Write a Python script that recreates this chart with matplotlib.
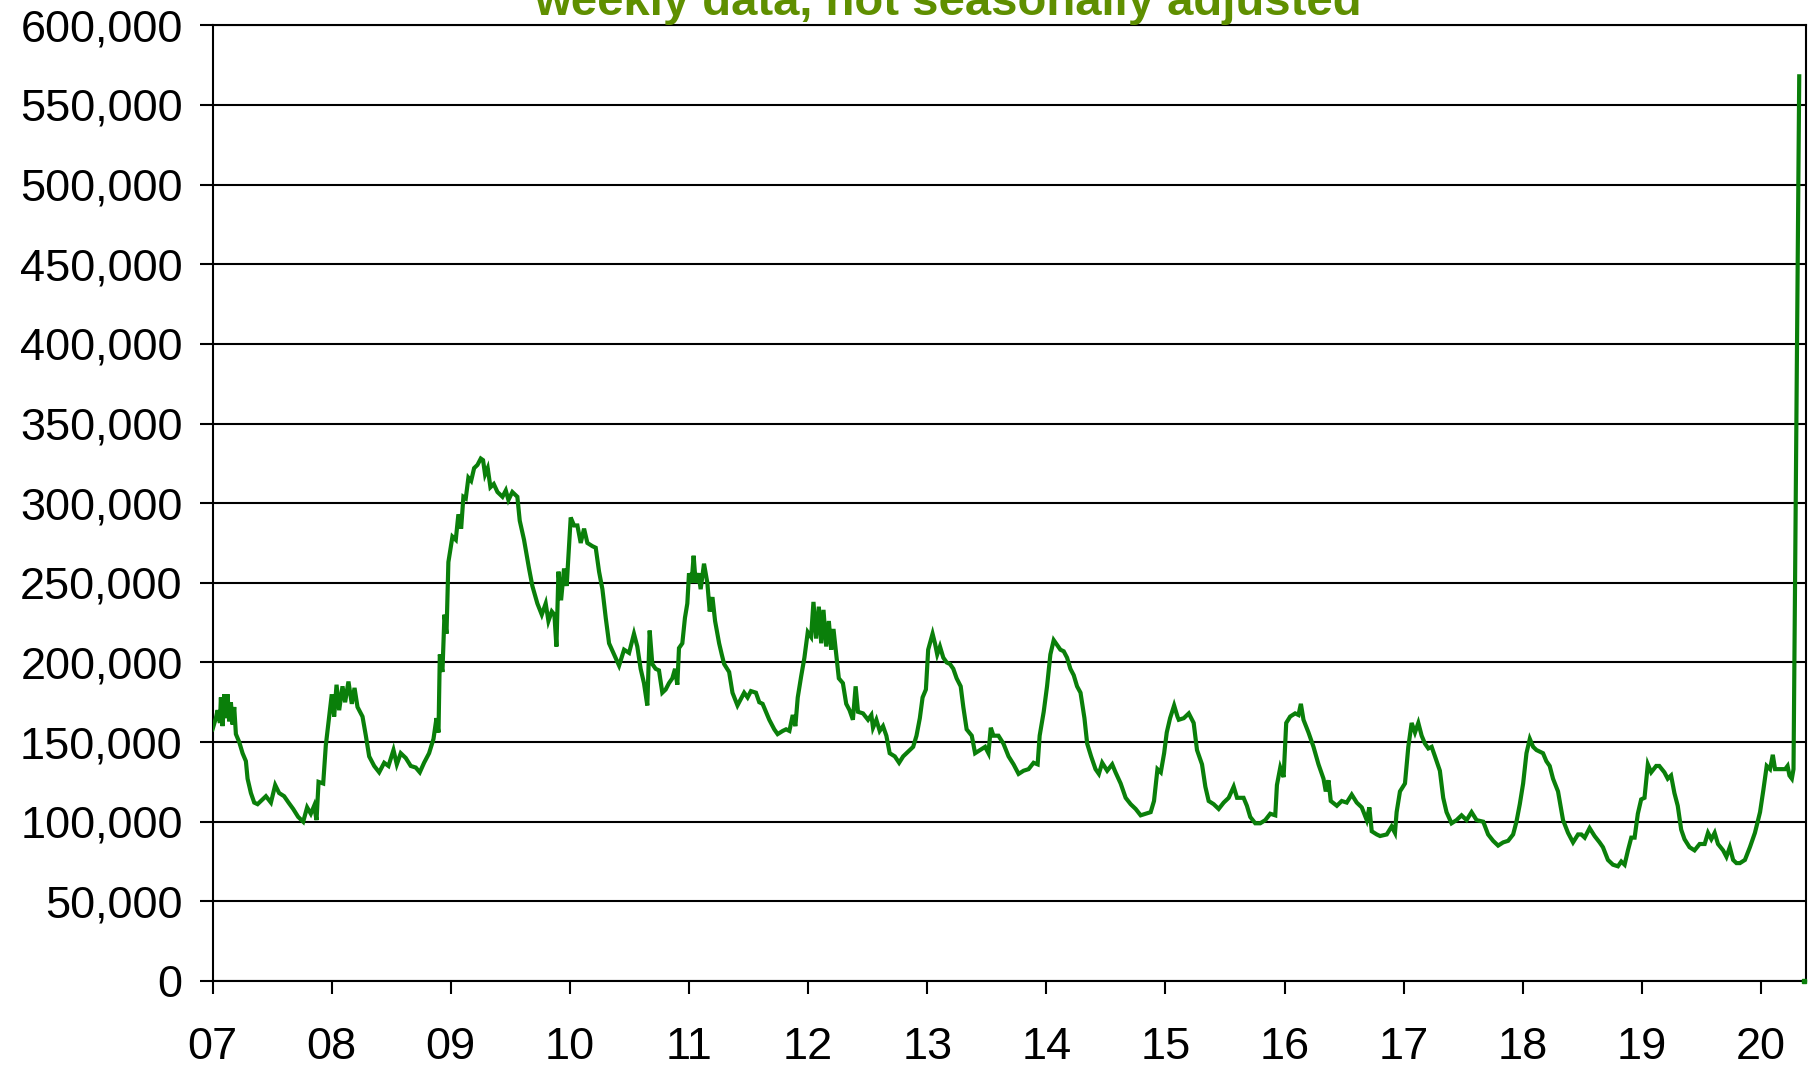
import matplotlib
matplotlib.use("Agg")
import matplotlib.pyplot as plt
from matplotlib.ticker import FuncFormatter

plt.rcParams['font.family'] = ['Liberation Sans', 'DejaVu Sans']

title_text = "weekly data, not seasonally adjusted"

year_ticks = list(range(2007, 2021))
year_labels = ["07", "08", "09", "10", "11", "12", "13", "14", "15", "16", "17", "18", "19", "20"]
y_ticks = list(range(0, 600001, 50000))

# fractional year offsets from 2007 and claims (thousands)
dates = [
    0.000, 0.028, 0.042, 0.062, 0.070, 0.084, 0.098, 0.112, 0.126, 0.140, 0.154, 0.168, 0.182, 0.196,
    0.224, 0.252, 0.280, 0.294, 0.322, 0.350, 0.378, 0.406, 0.448, 0.490, 0.526, 0.559, 0.601, 0.638,
    0.677, 0.719, 0.761, 0.794, 0.825, 0.853, 0.873, 0.890, 0.929, 0.951, 0.979, 1.001, 1.021, 1.041,
    1.063, 1.091, 1.113, 1.141, 1.169, 1.192, 1.217, 1.259, 1.287, 1.315, 1.357, 1.399, 1.441, 1.477,
    1.519, 1.547, 1.580, 1.622, 1.664, 1.706, 1.740, 1.776, 1.818, 1.855, 1.880, 1.897, 1.908, 1.930,
    1.947, 1.964, 1.980, 2.014, 2.042, 2.064, 2.087, 2.106, 2.126, 2.148, 2.171, 2.196, 2.224, 2.252,
    2.271, 2.288, 2.310, 2.333, 2.361, 2.392, 2.434, 2.462, 2.484, 2.517, 2.559, 2.579, 2.615, 2.657,
    2.685, 2.727, 2.764, 2.797, 2.820, 2.848, 2.870, 2.887, 2.904, 2.926, 2.951, 2.973, 3.007, 3.035,
    3.063, 3.091, 3.119, 3.147, 3.189, 3.217, 3.245, 3.273, 3.301, 3.329, 3.371, 3.413, 3.455, 3.497,
    3.538, 3.566, 3.594, 3.622, 3.650, 3.670, 3.692, 3.720, 3.748, 3.776, 3.804, 3.832, 3.860, 3.883,
    3.902, 3.916, 3.944, 3.966, 3.986, 4.000, 4.022, 4.039, 4.056,
    4.079, 4.098, 4.126, 4.154, 4.174, 4.197, 4.219, 4.253, 4.275, 4.295, 4.337, 4.365, 4.407, 4.435,
    4.463, 4.492, 4.520, 4.562, 4.590, 4.618, 4.646, 4.674, 4.716, 4.744, 4.787, 4.815, 4.843, 4.871,
    4.893, 4.913, 4.941, 4.969, 4.997, 5.025, 5.045, 5.067, 5.090, 5.110, 5.129, 5.152, 5.174, 5.194,
    5.213, 5.236, 5.258, 5.292, 5.320, 5.348, 5.376, 5.399, 5.419, 5.461, 5.503, 5.531, 5.545, 5.573,
    5.601, 5.629, 5.657, 5.685, 5.728, 5.764, 5.798, 5.840, 5.882, 5.910, 5.938, 5.961, 5.989, 6.008,
    6.045, 6.065, 6.084, 6.107, 6.135, 6.163, 6.191, 6.219, 6.247, 6.281, 6.303, 6.331, 6.374, 6.402,
    6.444, 6.486, 6.514, 6.534, 6.556, 6.598, 6.640, 6.683, 6.725, 6.767, 6.809, 6.851, 6.893, 6.927,
    6.944, 6.978, 7.006, 7.034, 7.062, 7.090, 7.118, 7.146, 7.174, 7.202, 7.230, 7.258, 7.287, 7.320,
    7.343, 7.376, 7.413, 7.441, 7.469, 7.511, 7.553, 7.581, 7.624, 7.666, 7.708, 7.750, 7.792, 7.834,
    7.876, 7.904, 7.933, 7.961, 7.989, 8.011, 8.039, 8.073, 8.101,
    8.112, 8.154, 8.196, 8.237, 8.265, 8.307, 8.335, 8.363, 8.405, 8.447, 8.489, 8.531, 8.573, 8.601,
    8.656, 8.684, 8.712, 8.754, 8.796, 8.838, 8.880, 8.922, 8.936, 8.964, 8.992, 9.014, 9.047, 9.089,
    9.117, 9.137, 9.159, 9.201, 9.243, 9.285, 9.327, 9.346, 9.369, 9.388, 9.439, 9.480, 9.522, 9.564,
    9.606, 9.648, 9.690, 9.712, 9.732, 9.774, 9.802, 9.858, 9.899, 9.927, 9.941, 9.969, 10.011, 10.039,
    10.067, 10.095, 10.123, 10.151, 10.179, 10.207, 10.235, 10.263, 10.304, 10.332, 10.360, 10.402,
    10.444, 10.486, 10.528, 10.570, 10.612, 10.668, 10.709, 10.751, 10.793, 10.835, 10.877, 10.919,
    10.947, 10.975, 11.003, 11.031, 11.059, 11.087, 11.115, 11.142, 11.170, 11.198, 11.226, 11.254,
    11.296, 11.338, 11.380, 11.422, 11.464, 11.492, 11.520, 11.561, 11.603, 11.645, 11.673, 11.715,
    11.757, 11.799, 11.827, 11.855, 11.883, 11.911, 11.939, 11.966, 11.994, 12.022, 12.050, 12.078,
    12.120, 12.146, 12.189, 12.217, 12.245, 12.273, 12.301, 12.330, 12.358, 12.400, 12.442, 12.485,
    12.527, 12.555, 12.583, 12.611, 12.639, 12.682, 12.710, 12.738, 12.766, 12.794, 12.823, 12.865,
    12.907, 12.949, 12.992, 13.020, 13.048, 13.076, 13.099, 13.118, 13.161, 13.203, 13.223, 13.239,
    13.259, 13.273, 13.321,
]

claims_k = [
    158, 165, 170, 162, 178, 160, 180, 165, 180, 163, 175, 161, 172, 155,
    150, 143, 138, 127, 118, 112, 111, 113, 116, 112, 123, 118, 116, 112,
    108, 103, 100, 109, 105, 110, 101, 125, 124, 148, 166, 180, 166, 186,
    170, 185, 175, 188, 174, 184, 172, 166, 154, 141, 135, 131, 137, 135,
    145, 136, 143, 140, 135, 134, 131, 137, 143, 152, 165, 156, 205, 194,
    230, 218, 263, 279, 277, 293, 284, 304, 303, 316, 314, 322, 324, 328,
    327, 318, 322, 310, 312, 307, 304, 308, 302, 307, 304, 289, 277, 259,
    248, 237, 230, 237, 226, 232, 230, 210, 257, 239, 259, 248, 291, 286,
    286, 275, 284, 275, 273, 272, 257, 246, 228, 212, 205, 198, 208, 206,
    218, 210, 196, 187, 173, 220, 199, 196, 195, 181, 183, 187, 190, 196,
    186, 209, 212, 228, 237, 256, 250, 267, 250,
    256, 246, 262, 250, 232, 241, 226, 212, 205, 199, 194, 181, 173, 177,
    181, 178, 182, 181, 175, 174, 169, 164, 158, 155, 157, 158, 157, 167,
    160, 178, 191, 203, 219, 216, 238, 215, 235, 212, 233, 210, 226, 208,
    221, 205, 190, 187, 174, 170, 164, 185, 169, 168, 164, 167, 159, 164,
    157, 160, 154, 143, 141, 137, 141, 144, 147, 154, 165, 178, 183, 208,
    218, 212, 205, 210, 203, 200, 199, 196, 190, 185, 172, 158, 154, 143,
    145, 147, 143, 159, 154, 154, 149, 141, 136, 130, 132, 133, 137, 136,
    154, 169, 185, 205, 214, 211, 208, 207, 203, 196, 192, 185, 181, 165,
    149, 141, 133, 130, 137, 132, 136, 131, 124, 115, 111, 108, 104, 105,
    106, 113, 133, 131, 143, 156, 165, 173, 166,
    164, 165, 168, 162, 145, 136, 122, 113, 111, 108, 112, 115, 122, 115,
    115, 110, 103, 99, 99, 101, 105, 104, 123, 134, 128, 162, 166, 168,
    167, 174, 164, 156, 147, 136, 127, 119, 126, 113, 110, 113, 112, 117,
    112, 109, 101, 109, 94, 92, 91, 92, 97, 93, 106, 119, 124, 147,
    162, 156, 162, 154, 149, 146, 147, 141, 132, 115, 106, 99,
    101, 104, 101, 106, 101, 100, 92, 88, 85, 87, 88, 92,
    100, 111, 124, 143, 152, 147, 145, 144, 143, 138, 135, 127,
    119, 101, 93, 87, 92, 92, 90, 96, 91, 87, 84, 76,
    73, 72, 75, 73, 82, 90, 90, 105, 114, 115, 136, 131,
    135, 135, 131, 127, 129, 118, 110, 95, 89, 84, 82, 86,
    86, 93, 89, 93, 86, 82, 78, 84, 76, 74, 74, 76,
    84, 93, 106, 120, 135, 133, 142, 133, 133, 133, 135, 129,
    127, 133, 568,
]

last_date = 13.363
last_claims_k = 0

base_year = 2007

fig = plt.figure(figsize=(18.12, 10.65), dpi=100)
ax = fig.add_axes([0.1173, 0.0789, 0.8794, 0.8973])

xs = [base_year + d for d in dates]
ys = [v * 1000 for v in claims_k]
ax.plot(xs, ys, color='#0a7f0a', linewidth=3.0, solid_joinstyle='miter', zorder=3)
ax.plot([base_year + last_date], [last_claims_k * 1000], marker='s', markersize=3,
        color='#0a7f0a', linestyle='none', clip_on=False, zorder=3)

ax.set_xlim(2007.0, 2020.378)
ax.set_ylim(0, 600000)
ax.set_xticks(year_ticks)
ax.set_xticklabels(year_labels)
ax.set_yticks(y_ticks)
ax.yaxis.set_major_formatter(FuncFormatter(lambda v, p: f"{int(v):,}"))

ax.grid(axis='y', color='black', linewidth=1.5)
ax.set_axisbelow(True)
for s in ax.spines.values():
    s.set_color('black')
    s.set_linewidth(1.5)

ax.tick_params(axis='both', which='major', direction='out', length=9.5, width=1.5,
               colors='black', labelsize=32.5)
ax.tick_params(axis='x', pad=24)
ax.tick_params(axis='y', pad=12)

fig.text(0.523, 0.986, title_text, ha='center', va='baseline', fontsize=34,
         fontweight='bold', color='#5f8f00')

fig.savefig('out.png', dpi=100)
